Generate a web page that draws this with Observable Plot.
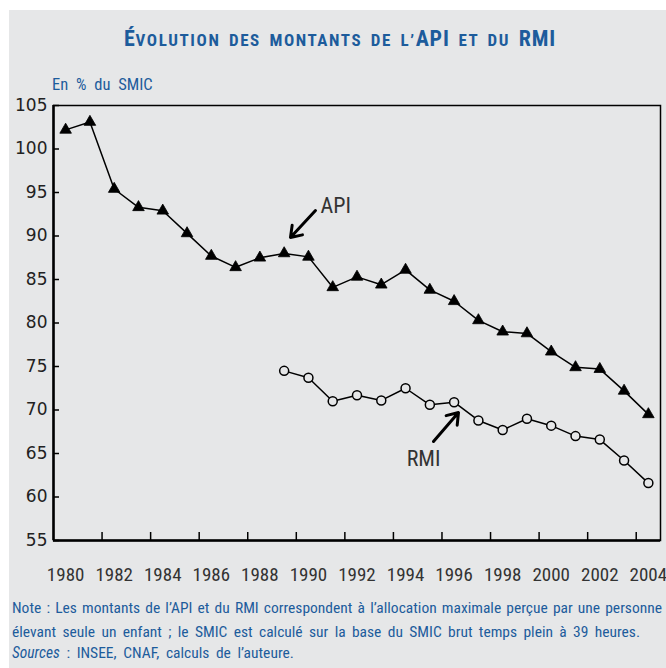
<!DOCTYPE html>
<html>
<head>
<meta charset="utf-8">
<script src="https://cdn.jsdelivr.net/npm/d3@7"></script>
<script src="https://cdn.jsdelivr.net/npm/@observablehq/plot@0.6"></script>
<style>
  html, body { margin: 0; padding: 0; background: #ffffff; }
  #page { position: relative; width: 666px; height: 668px; overflow: hidden; }
  #bg { position: absolute; left: 9px; top: 10px; width: 657px; height: 658px; background: #e6e7e8; }
  .cond { font-family: "Liberation Sans Narrow", "Roboto Condensed", "DejaVu Sans Condensed", sans-serif; }
  #title { position: absolute; left: 9px; width: 662px; top: 28px; text-align: center; color: #1d5c9c; font-weight: bold; font-size: 22px; line-height: 22px; white-space: nowrap; letter-spacing: 0.8px; word-spacing: 3px; }
  #title .sc { font-size: 17px; letter-spacing: 1.6px; }
  #subtitle { position: absolute; left: 52px; top: 77px; color: #1d5c9c; font-size: 16.5px; line-height: 16.5px; word-spacing: 4px; white-space: nowrap; }
  #chart { position: absolute; left: 0; top: 95px; }
  .note { position: absolute; left: 12px; color: #1d5c9c; font-size: 15.5px; line-height: 15.5px; white-space: nowrap; }
  .just { text-align: justify; text-align-last: justify; white-space: normal; }
</style>
</head>
<body>
<div id="page">
  <div id="bg"></div>
  <div id="title" class="cond">É<span class="sc">VOLUTION DES MONTANTS DE L’</span>API <span class="sc">ET DU</span> RMI</div>
  <div id="subtitle" class="cond">En % du SMIC</div>
  <div id="chart"></div>
  <div class="note cond just" style="top:601px; width:650px;">Note : Les montants de l’API et du RMI correspondent à l’allocation maximale perçue par une personne</div>
  <div class="note cond just" style="top:625px; width:628px;">élevant seule un enfant ; le SMIC est calculé sur la base du SMIC brut temps plein à 39 heures.</div>
  <div class="note cond" style="top:646px; word-spacing:3px;"><i>Sources</i> : INSEE, CNAF, calculs de l’auteure.</div>
</div>
<script>
// ---- data ----
const apiYears = [1980,1981,1982,1983,1984,1985,1986,1987,1988,1989,1990,1991,1992,1993,1994,1995,1996,1997,1998,1999,2000,2001,2002,2003,2004];
const apiValues = [102.2,103.1,95.4,93.3,92.9,90.3,87.7,86.4,87.5,88.0,87.6,84.1,85.3,84.4,86.1,83.8,82.5,80.3,79.0,78.8,76.7,74.9,74.7,72.2,69.5];
const rmiYears = [1989,1990,1991,1992,1993,1994,1995,1996,1997,1998,1999,2000,2001,2002,2003,2004];
const rmiValues = [74.5,73.7,71.0,71.7,71.1,72.5,70.6,70.9,68.8,67.7,69.0,68.2,67.0,66.6,64.2,61.6];

const xDomain = [1979.5, 2004.5];
const yDomain = [55, 105];
const yTicks = [55,60,65,70,75,80,85,90,95,100,105];
const xLabelYears = [1980,1982,1984,1986,1988,1990,1992,1994,1996,1998,2000,2002,2004];
const xTickMarks = [1981.5,1983.5,1985.5,1987.5,1989.5,1991.5,1993.5,1995.5,1997.5,1999.5,2001.5,2003.5];

const labelNames = ["API", "RMI"];
const labelX = [1990.5, 1994.74];
const labelY = [93.5, 64.4];
const labelAnchor = ["start", "middle"];
const arrowX1 = [1990.29, 1995.15];
const arrowY1 = [92.93, 66.38];
const arrowX2 = [1989.26, 1996.18];
const arrowY2 = [89.83, 69.71];

const api = apiYears.map((year, i) => ({year, value: apiValues[i]}));
const rmi = rmiYears.map((year, i) => ({year, value: rmiValues[i]}));
const labels = labelNames.map((name, i) => ({name, x: labelX[i], y: labelY[i], anchor: labelAnchor[i]}));
const arrows = labelNames.map((name, i) => ({x1: arrowX1[i], y1: arrowY1[i], x2: arrowX2[i], y2: arrowY2[i]}));

const condFont = '"Liberation Sans Narrow", "Roboto Condensed", "DejaVu Sans Condensed", sans-serif';

const chart = Plot.plot({
  width: 666,
  height: 490,
  marginTop: 10,
  marginBottom: 45,
  marginLeft: 53,
  marginRight: 6,
  style: {background: "transparent", overflow: "visible"},
  x: {domain: xDomain, axis: null},
  y: {domain: yDomain, axis: null},
  marks: [
    Plot.axisY({ticks: yTicks, tickSize: 6, dx: 6, tickFormat: () => "", stroke: "black", strokeWidth: 1.5}),
    Plot.axisY({ticks: yTicks, tickSize: 0, tickPadding: 6, fontSize: 17, fill: "#222", fontFamily: "DejaVu Sans", label: null}),
    Plot.axisX({ticks: xTickMarks, tickSize: 8, dy: -8, tickFormat: () => "", stroke: "black", strokeWidth: 1.5, label: null}),
    Plot.axisX({ticks: xLabelYears, tickSize: 0, tickPadding: 27, fontSize: 19, fill: "#333", fontFamily: condFont, tickFormat: d => String(d), label: null}),
    Plot.frame({stroke: "black", strokeWidth: 1.5}),
    Plot.ruleX([xDomain[0]], {stroke: "black", strokeWidth: 2.5}),
    Plot.ruleY([yDomain[0]], {stroke: "black", strokeWidth: 2.5}),
    Plot.line(api, {x: "year", y: "value", stroke: "black", strokeWidth: 1.5}),
    Plot.dot(api, {x: "year", y: "value", symbol: "triangle", r: 4.3, fill: "black", stroke: "black", strokeWidth: 0.8}),
    Plot.line(rmi, {x: "year", y: "value", stroke: "black", strokeWidth: 1.5}),
    Plot.dot(rmi, {x: "year", y: "value", symbol: "circle", r: 4.5, fill: "#e6e7e8", stroke: "black", strokeWidth: 1.5}),
    Plot.arrow(arrows, {x1: "x1", y1: "y1", x2: "x2", y2: "y2", stroke: "black", strokeWidth: 3, headLength: 9, headAngle: 70}),
    Plot.text(labels.filter(d => d.anchor === "start"), {x: "x", y: "y", text: "name", textAnchor: "start", fontSize: 22, fill: "#333", fontFamily: condFont}),
    Plot.text(labels.filter(d => d.anchor === "middle"), {x: "x", y: "y", text: "name", textAnchor: "middle", fontSize: 22, fill: "#333", fontFamily: condFont})
  ]
});
document.getElementById("chart").appendChild(chart);
</script>
</body>
</html>
